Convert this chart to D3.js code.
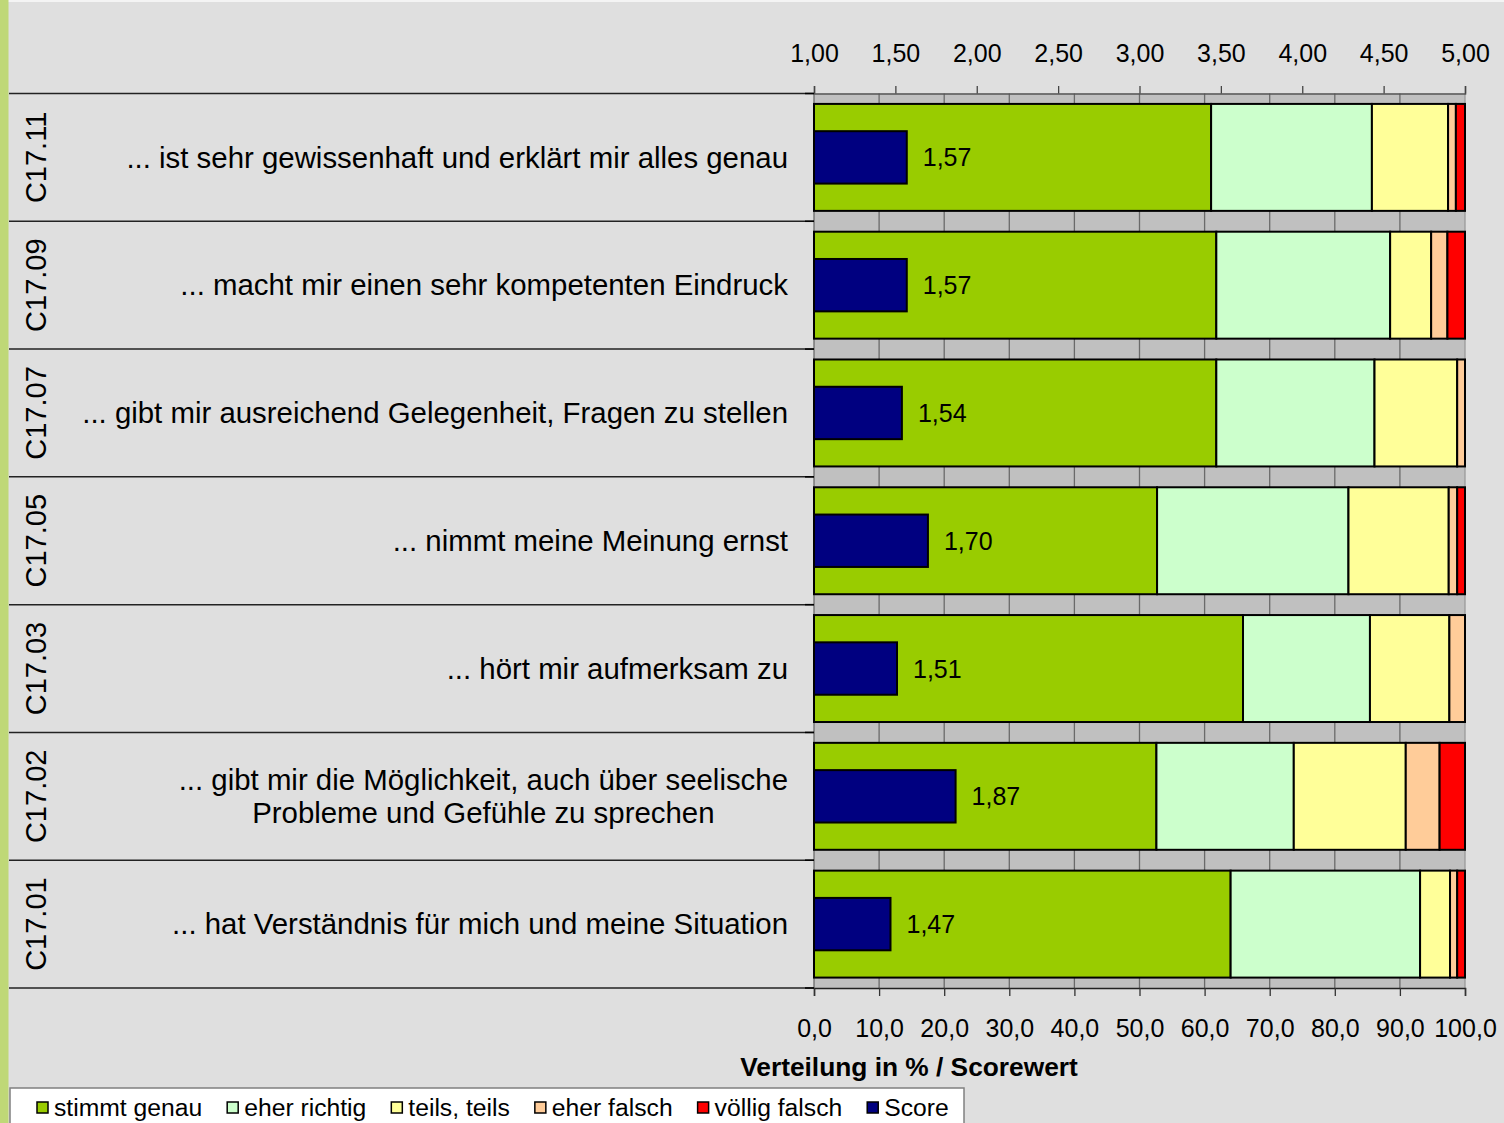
<!DOCTYPE html>
<html>
<head>
<meta charset="utf-8">
<script src="https://cdn.jsdelivr.net/npm/d3@7"></script>
<style>
  html, body { margin: 0; padding: 0; background: #dfdfdf; }
  svg { display: block; font-family: "Liberation Sans", Arial, sans-serif; }
</style>
</head>
<body>
<script>
// ---------------- DATA ----------------
const codes = ["C17.11", "C17.09", "C17.07", "C17.05", "C17.03", "C17.02", "C17.01"];
const labels = [
  ["... ist sehr gewissenhaft und erklärt mir alles genau"],
  ["... macht mir einen sehr kompetenten Eindruck"],
  ["... gibt mir ausreichend Gelegenheit, Fragen zu stellen"],
  ["... nimmt meine Meinung ernst"],
  ["... hört mir aufmerksam zu"],
  ["... gibt mir die Möglichkeit, auch über seelische", "Probleme und Gefühle zu sprechen"],
  ["... hat Verständnis für mich und meine Situation"]
];
const seriesNames = ["stimmt genau", "eher richtig", "teils, teils", "eher falsch", "völlig falsch"];
const stimmtGenau  = [61.0, 61.8, 61.8, 52.7, 65.9, 52.6, 64.0];
const eherRichtig  = [24.7, 26.7, 24.3, 29.4, 19.5, 21.1, 29.1];
const teilsTeils   = [11.7,  6.3, 12.7, 15.4, 12.2, 17.2,  4.6];
const eherFalsch   = [ 1.2,  2.5,  1.2,  1.3,  2.4,  5.2,  1.1];
const voelligFalsch= [ 1.4,  2.7,  0.0,  1.2,  0.0,  3.9,  1.2];
const scores       = [1.57, 1.57, 1.54, 1.70, 1.51, 1.87, 1.47];
const scoreName = "Score";
const scoreTicks = [1.0, 1.5, 2.0, 2.5, 3.0, 3.5, 4.0, 4.5, 5.0];
const pctTicks = [0, 10, 20, 30, 40, 50, 60, 70, 80, 90, 100];
const axisTitle = "Verteilung in % / Scorewert";

const colors = ["#99cc00", "#ccffcc", "#ffff99", "#ffcc99", "#ff0000"];
const scoreColor = "#000080";

// ---------------- LAYOUT ----------------
const W = 1504, H = 1123;
const plotL = 814, plotR = 1465, plotT = 93.5, plotB = 988;
const fmt = (v, d) => v.toFixed(d).replace(".", ",");

const svg = d3.select("body").append("svg").attr("width", W).attr("height", H);

svg.append("rect").attr("x", 0).attr("y", 0).attr("width", W).attr("height", H).attr("fill", "#dfdfdf");
svg.append("rect").attr("x", 8).attr("y", 0).attr("width", W).attr("height", 2).attr("fill", "#f4f4f4");
svg.append("rect").attr("x", 0).attr("y", 0).attr("width", 8.5).attr("height", H).attr("fill", "#bfd877");

const xPct = d3.scaleLinear().domain([0, 100]).range([plotL, plotR]);
const xScore = d3.scaleLinear().domain([1, 5]).range([plotL, plotR]);
const y = d3.scaleBand().domain(codes).range([plotT, plotB]).paddingInner(0.163).paddingOuter(0.0815);
const step = y.step();

// plot background
svg.append("rect").attr("x", plotL).attr("y", plotT).attr("width", plotR - plotL).attr("height", plotB - plotT)
  .attr("fill", "#c0c0c0");

// vertical gridlines
svg.append("g").selectAll("line").data(pctTicks).join("line")
  .attr("x1", d => xPct(d)).attr("x2", d => xPct(d))
  .attr("y1", plotT).attr("y2", plotB)
  .attr("stroke", d => d === 100 ? "#9a9a9a" : "#6a6a6a").attr("stroke-width", 1.3);

// row separator lines in label area
svg.append("g").selectAll("line").data(d3.range(codes.length + 1)).join("line")
  .attr("x1", 9).attr("x2", plotL)
  .attr("y1", i => plotT + i * step).attr("y2", i => plotT + i * step)
  .attr("stroke", "#222").attr("stroke-width", 1.5);

// stacked data
const rows = codes.map((c, i) => {
  const vals = [stimmtGenau[i], eherRichtig[i], teilsTeils[i], eherFalsch[i], voelligFalsch[i]];
  let acc = 0;
  return vals.map((v, k) => { const s = acc; acc += v; return { code: c, k, x0: s, x1: acc, v }; });
});

const barG = svg.append("g");
rows.forEach(segs => {
  barG.selectAll(null).data(segs.filter(s => s.v > 0)).join("rect")
    .attr("x", d => xPct(d.x0)).attr("width", d => xPct(d.x1) - xPct(d.x0))
    .attr("y", d => y(d.code)).attr("height", y.bandwidth())
    .attr("fill", d => colors[d.k]).attr("stroke", "#000").attr("stroke-width", 2);
});

// score bars
const scoreH = step * 0.41;
svg.append("g").selectAll("rect").data(codes).join("rect")
  .attr("x", xScore(1)).attr("width", (c, i) => xScore(scores[i]) - xScore(1))
  .attr("y", c => y(c) + y.bandwidth() / 2 - scoreH / 2).attr("height", scoreH)
  .attr("fill", scoreColor).attr("stroke", "#000").attr("stroke-width", 2);

svg.append("g").selectAll("text").data(codes).join("text")
  .attr("x", (c, i) => xScore(scores[i]) + 16)
  .attr("y", c => y(c) + y.bandwidth() / 2).attr("dy", "0.36em")
  .attr("font-size", 25).attr("fill", "#000")
  .text((c, i) => fmt(scores[i], 2));

// top (score) axis
const topAxis = d3.axisTop(xScore).tickValues(scoreTicks).tickSize(7.5).tickPadding(0).tickFormat(d => fmt(d, 2));
const gTop = svg.append("g").attr("transform", `translate(0,${plotT})`).call(topAxis);
gTop.select(".domain").attr("stroke", "#555").attr("stroke-width", 1.5);
gTop.selectAll(".tick line").attr("stroke", "#444").attr("stroke-width", 1.3);
gTop.selectAll(".tick text").attr("font-size", 25).attr("font-family", "Liberation Sans, Arial, sans-serif")
  .attr("fill", "#000").attr("y", -31.5).attr("dy", 0);

// bottom (percent) axis
const botAxis = d3.axisBottom(xPct).tickValues(pctTicks).tickSize(8).tickPadding(0).tickFormat(d => fmt(d, 1));
const gBot = svg.append("g").attr("transform", `translate(0,${plotB})`).call(botAxis);
gBot.select(".domain").attr("stroke", "#222").attr("stroke-width", 1.5);
gBot.selectAll(".tick line").attr("stroke", "#333").attr("stroke-width", 1.3);
gBot.selectAll(".tick text").attr("font-size", 25).attr("font-family", "Liberation Sans, Arial, sans-serif")
  .attr("fill", "#000").attr("y", 49).attr("dy", 0);

// category outward ticks on left of plot
svg.append("g").selectAll("line").data(d3.range(codes.length + 1)).join("line")
  .attr("x1", plotL - 9).attr("x2", plotL)
  .attr("y1", i => plotT + i * step).attr("y2", i => plotT + i * step)
  .attr("stroke", "#000").attr("stroke-width", 1.5);

// axis title
svg.append("text").attr("x", 909).attr("y", 1076).attr("text-anchor", "middle")
  .attr("font-size", 26.3).attr("font-weight", "bold").attr("fill", "#000").text(axisTitle);

// code labels (rotated)
svg.append("g").selectAll("text").data(codes).join("text")
  .attr("transform", c => `translate(45.5,${y(c) + y.bandwidth() / 2}) rotate(-90)`)
  .attr("text-anchor", "middle").attr("font-size", 29).attr("fill", "#000")
  .text(c => c);

// category labels
const labRight = 788, lineH = 32.5;
codes.forEach((c, i) => {
  const cy = y(c) + y.bandwidth() / 2;
  const lines = labels[i];
  const t = svg.append("text").attr("font-size", 29.4).attr("fill", "#000").attr("text-anchor", "middle");
  lines.forEach((ln, j) => {
    t.append("tspan").attr("y", cy + (j - (lines.length - 1) / 2) * lineH).attr("dy", "0.35em").text(ln);
  });
  let maxW = 0;
  t.selectAll("tspan").each(function () { maxW = Math.max(maxW, this.getComputedTextLength()); });
  t.selectAll("tspan").attr("x", labRight - maxW / 2);
});

// legend
const legG = svg.append("g");
legG.append("rect").attr("x", 10).attr("y", 1088).attr("width", 954).attr("height", 50)
  .attr("fill", "#fff").attr("stroke", "#808080").attr("stroke-width", 1.5);
const legItems = seriesNames.map((n, k) => ({ n, c: colors[k] })).concat([{ n: scoreName, c: scoreColor }]);
let lx = 37;
legItems.forEach(it => {
  legG.append("rect").attr("x", lx).attr("y", 1102).attr("width", 11).attr("height", 11)
    .attr("fill", it.c).attr("stroke", "#000").attr("stroke-width", 1.5);
  const t = legG.append("text").attr("x", lx + 17).attr("y", 1116).attr("font-size", 24.7).attr("fill", "#000").text(it.n);
  lx = lx + 17 + t.node().getComputedTextLength() + 25;
});
</script>
</body>
</html>
